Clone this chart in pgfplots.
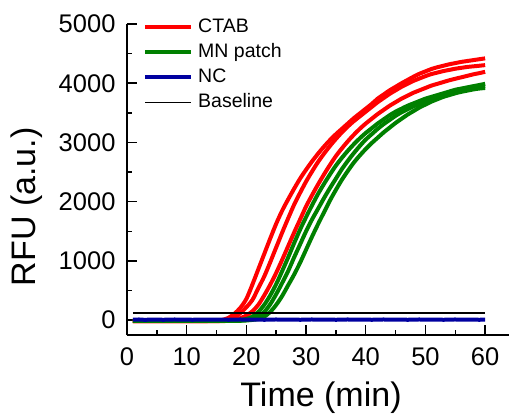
\documentclass[border=0pt]{standalone}
\usepackage{pgfplots}
\pgfplotsset{compat=1.18}
\usepackage{pgfplotstable}
\usepackage{fontspec}
\setmainfont{Liberation Sans}
\definecolor{cred}{RGB}{255,0,0}
\definecolor{cgreen}{RGB}{0,128,0}
\definecolor{cnavy}{RGB}{0,0,160}

\pgfplotstableread{
t R1 R2 R3 G1 G2 G3 NC
1 -15 -15 -15 -10 -10 -10 8
2 -15 -15 -15 -10 -10 -10 12
3 -15 -15 -15 -10 -10 -10 6
4 -15 -15 -15 -10 -10 -10 10
5 -15 -15 -15 -10 -10 -10 11
6 -15 -15 -15 -10 -10 -10 7
7 -15 -15 -15 -10 -10 -10 9
8 -15 -15 -15 -10 -10 -10 12
9 -15 -15 -15 -10 -10 -10 8
10 -15 -15 -15 -10 -10 -10 10
11 -15 -15 -15 -10 -10 -10 7
12 -15 -15 -15 -10 -10 -10 11
13 -15 -15 -15 -10 -10 -10 9
14 -12 -15 -15 -10 -10 -10 8
15 -10 -15 -15 -10 -10 -10 9
16 5 -10 -15 -10 -10 -10 11
17 40 15 -10 -10 -10 -10 7
18 110 50 10 -5 -10 -10 10
19 210 120 35 5 -5 -10 12
20 360 220 80 20 5 -5 8
21 600 340 150 60 25 5 9
22 860 540 260 140 60 20 11
23 1120 740 420 260 140 60 7
24 1380 980 600 420 270 140 10
25 1630 1230 800 610 440 260 12
26 1850 1480 1020 830 630 410 8
27 2040 1720 1250 1060 830 590 9
28 2220 1950 1480 1300 1060 770 11
29 2390 2150 1700 1530 1280 970 7
30 2540 2340 1920 1740 1500 1190 10
31 2680 2510 2110 1940 1700 1410 12
32 2810 2670 2290 2130 1880 1620 8
33 2930 2810 2460 2300 2060 1820 9
34 3040 2940 2620 2460 2230 2020 11
35 3140 3060 2770 2610 2390 2200 7
36 3230 3170 2900 2740 2550 2370 10
37 3320 3270 3020 2860 2690 2520 12
38 3410 3360 3130 2970 2820 2660 8
39 3490 3440 3230 3070 2940 2780 9
40 3570 3520 3320 3160 3050 2890 11
41 3650 3600 3400 3240 3140 2990 7
42 3740 3680 3480 3320 3230 3080 10
43 3810 3750 3550 3390 3310 3170 12
44 3880 3820 3620 3460 3380 3250 8
45 3940 3880 3680 3520 3450 3330 9
46 4000 3940 3740 3570 3510 3400 11
47 4055 3990 3790 3620 3560 3470 7
48 4110 4040 3840 3660 3610 3530 10
49 4160 4080 3880 3700 3650 3590 12
50 4200 4120 3920 3740 3690 3640 8
51 4240 4155 3960 3770 3730 3690 9
52 4270 4180 3990 3800 3760 3730 11
53 4295 4205 4020 3830 3790 3770 7
54 4320 4225 4050 3860 3820 3800 10
55 4340 4245 4075 3890 3850 3830 12
56 4360 4260 4100 3910 3870 3855 8
57 4375 4275 4125 3930 3890 3875 9
58 4390 4285 4150 3950 3910 3895 11
59 4405 4295 4170 3970 3930 3910 7
60 4420 4306 4193 3990 3950 3920 10
}\data

\begin{document}
\begin{tikzpicture}
\begin{axis}[
  scale only axis, width=382pt, height=311pt,
  xmin=0, xmax=64, ymin=-250, ymax=5000,
  axis x line*=bottom, axis y line*=left,
  axis line style={line width=1.5pt, -},
  tick align=inside,
  xtick={0,10,...,60}, ytick={0,1000,...,5000},
  minor x tick num=1, minor y tick num=1,
  major tick length=10pt, minor tick length=5pt,
  every tick/.style={black, line width=1.5pt},
  tick label style={font=\fontsize{25.5}{28}\selectfont},
  xticklabel style={yshift=-9pt},
  yticklabel style={xshift=-8pt},
  /pgf/number format/assume math mode=true,
  /pgf/number format/set thousands separator={},
  xlabel={Time (min)}, ylabel={RFU (a.u.)},
  label style={font=\fontsize{34}{38}\selectfont},
  xlabel style={at={(axis description cs:0.508,-0.203)}, anchor=center},
  ylabel style={at={(axis description cs:-0.262,0.412)}, anchor=center},
  legend style={draw=none, fill=none, at={(rel axis cs:0,1)}, anchor=north west,
    xshift=16pt, yshift=9.5pt, inner sep=0pt,
    font=\fontsize{19.5}{21}\selectfont,
    nodes={inner ysep=3.5pt, inner xsep=5pt, text height=14pt, text depth=4pt}},
  legend cell align=left,
  legend image code/.code={\draw[#1] (0pt,0pt) -- (46pt,0pt);},
  every axis plot/.append style={line join=round},
]
\addplot[cred, line width=4pt, smooth] table[x=t, y=R1] {\data};
\addlegendentry{CTAB}
\addplot[cred, line width=4pt, smooth, forget plot] table[x=t, y=R2] {\data};
\addplot[cred, line width=4pt, smooth, forget plot] table[x=t, y=R3] {\data};
\addplot[cgreen, line width=4pt, smooth] table[x=t, y=G1] {\data};
\addlegendentry{MN patch}
\addplot[cgreen, line width=4pt, smooth, forget plot] table[x=t, y=G2] {\data};
\addplot[cgreen, line width=4pt, smooth, forget plot] table[x=t, y=G3] {\data};
\addplot[cnavy, line width=4pt] table[x=t, y=NC] {\data};
\addlegendentry{NC}
\addplot[black, line width=1.3pt] coordinates {(1,120) (60,120)};
\addlegendentry{Baseline}
\end{axis}
\pgfresetboundingbox
\path[use as bounding box] (-127pt,-80pt) rectangle (386pt,335pt);
\end{tikzpicture}
\end{document}
